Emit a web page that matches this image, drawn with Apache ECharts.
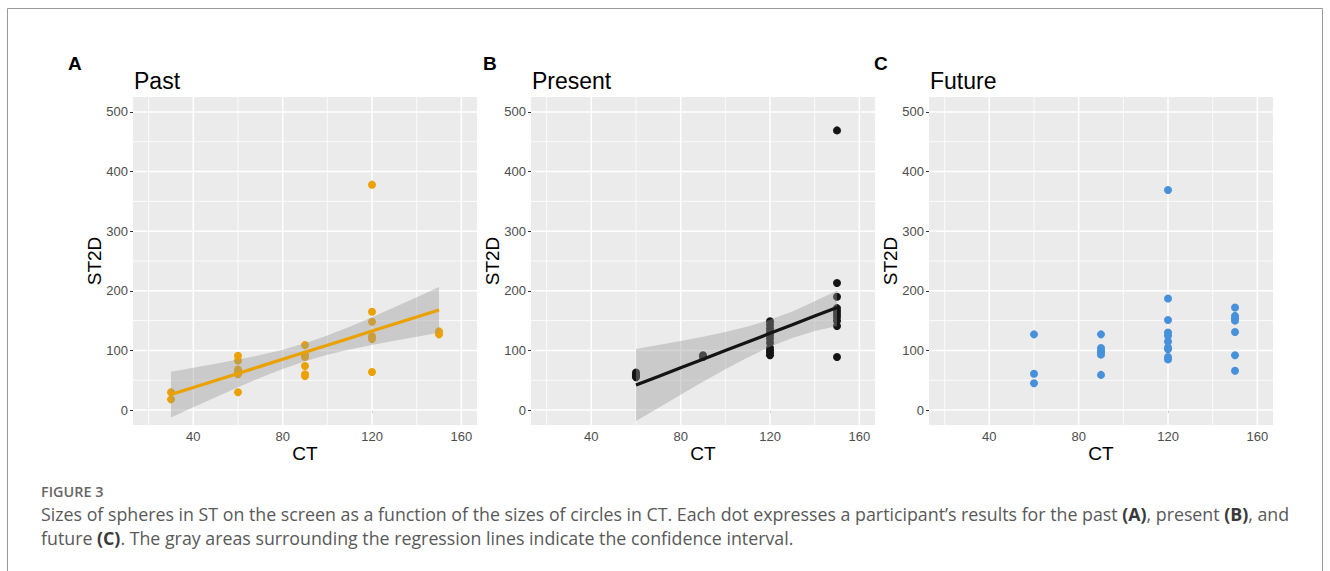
<!DOCTYPE html>
<html>
<head>
<meta charset="utf-8">
<script src="https://cdn.jsdelivr.net/npm/echarts@6/dist/echarts.min.js"></script>
<style>
  html, body { margin: 0; padding: 0; background: #ffffff; }
  #chart { width: 1330px; height: 571px; }
</style>
</head>
<body>
<div id="chart"></div>
<script>
// Axis ticks and background grid positions (shared by all three panels)
const ctTicks = [40, 80, 120, 160];
const st2dTicks = [0, 100, 200, 300, 400, 500];
const ctMinorGrid = [20, 60, 100, 140];
const st2dMinorGrid = [50, 150, 250, 350, 450];

// Past: participant results
const pastCT   = [30, 30, 60, 60, 60, 60, 60, 60, 90, 90, 90, 90, 90, 90, 120, 120, 120, 120, 120, 120, 150, 150];
const pastST2D = [30, 18, 91, 83, 68, 64, 60, 30, 109, 93, 89, 74, 60, 57, 378, 165, 148, 124, 119, 64, 132, 127];
// Past: regression line with confidence band
const pastFitCT = [30, 40, 50, 60, 70, 80, 90, 100, 110, 120, 130, 140, 150];
const pastFit   = [26, 37.8, 49.7, 61.5, 73.3, 85.2, 97, 108.8, 120.6, 132.5, 144.3, 156.2, 168];
const pastLower = [-12.5, 4.6, 21.7, 38.3, 54.2, 69.1, 82, 92.7, 101.5, 109.3, 116.3, 123, 129.5];
const pastUpper = [64.5, 71, 77.7, 84.7, 92.4, 101.3, 112, 124.9, 139.7, 155.7, 172.3, 189.4, 206.5];

// Present: participant results
const presentCT   = [60, 60, 60, 60, 90, 90, 120, 120, 120, 120, 120, 120, 120, 120, 120, 120, 120, 150, 150, 150, 150, 150, 150, 150, 150, 150, 150];
const presentST2D = [63, 60, 57, 55, 92, 89, 149, 143, 137, 131, 126, 120, 113, 104, 100, 96, 92, 469, 213, 190, 171, 166, 161, 156, 150, 141, 89];
// Present: regression line with confidence band
const presentFitCT = [60, 70, 80, 90, 100, 110, 120, 130, 140, 150];
const presentFit   = [42, 56.4, 70.9, 85.3, 99.8, 114.2, 128.7, 143.1, 157.6, 172];
const presentLower = [-18.5, 3.7, 25.9, 47.5, 68.5, 88.3, 106.1, 120.8, 132.6, 141];
const presentUpper = [102.5, 109.1, 115.9, 123.1, 131.1, 140.1, 151.3, 165.4, 182.6, 200];

// Future: participant results (no fit drawn)
const futureCT   = [60, 60, 60, 90, 90, 90, 90, 90, 90, 120, 120, 120, 120, 120, 120, 120, 120, 120, 120, 150, 150, 150, 150, 150, 150, 150];
const futureST2D = [127, 61, 45, 127, 104, 100, 97, 93, 59, 369, 187, 151, 130, 125, 115, 105, 102, 89, 85, 172, 158, 154, 150, 131, 92, 66];

const panelLetters = ['A', 'B', 'C'];
const panelTitles = ['Past', 'Present', 'Future'];
const xTitle = 'CT';
const yTitle = 'ST2D';

// ---- layout / style ----
const FONT = '"Liberation Sans", Arial, sans-serif';
const CAPTION_FONT = '"Open Sans", "Noto Sans", sans-serif';
const X_MIN = 13, X_MAX = 167, Y_MIN = -25, Y_MAX = 525;
const gridLefts = [133, 531, 929];
const GRID_TOP = 97, GRID_W = 344, GRID_H = 328;
const BAND_FILL = 'rgba(153,153,153,0.4)';

const zip = (a, b) => a.map((v, i) => [v, b[i]]);

const panels = [
  { points: zip(pastCT, pastST2D), color: '#EBA100',
    fit: { x: pastFitCT, y: pastFit, lo: pastLower, hi: pastUpper } },
  { points: zip(presentCT, presentST2D), color: '#141414',
    fit: { x: presentFitCT, y: presentFit, lo: presentLower, hi: presentUpper } },
  { points: zip(futureCT, futureST2D), color: '#4790DA', fit: null }
];

// gridline specs: [value, isVertical, isMajor]
const gridSpecs = []
  .concat(ctTicks.map(v => [v, 1, 1]))
  .concat(ctMinorGrid.map(v => [v, 1, 0]))
  .concat(st2dTicks.map(v => [v, 0, 1]))
  .concat(st2dMinorGrid.map(v => [v, 0, 0]));

const grids = [], xAxes = [], yAxes = [], series = [], graphics = [];

panels.forEach((p, i) => {
  grids.push({
    left: gridLefts[i], top: GRID_TOP, width: GRID_W, height: GRID_H,
    show: true, backgroundColor: '#EBEBEB', borderWidth: 0
  });
  xAxes.push({
    gridIndex: i, type: 'value', min: X_MIN, max: X_MAX,
    axisLine: { show: false },
    axisTick: { show: true, customValues: ctTicks, length: 3, lineStyle: { color: '#333333', width: 1 } },
    axisLabel: { customValues: ctTicks, color: '#4D4D4D', fontSize: 13, fontFamily: FONT, margin: 5 },
    splitLine: { show: false },
    name: xTitle, nameLocation: 'middle', nameGap: 19, nameMoveOverlap: false,
    nameTextStyle: { color: '#000000', fontSize: 19, fontFamily: FONT, verticalAlign: 'top' }
  });
  yAxes.push({
    gridIndex: i, type: 'value', min: Y_MIN, max: Y_MAX,
    axisLine: { show: false },
    axisTick: { show: true, customValues: st2dTicks, length: 3, lineStyle: { color: '#333333', width: 1 } },
    axisLabel: { customValues: st2dTicks, color: '#4D4D4D', fontSize: 13, fontFamily: FONT, margin: 5 },
    splitLine: { show: false },
    name: yTitle, nameLocation: 'middle', nameGap: 29, nameRotate: 90, nameMoveOverlap: false,
    nameTextStyle: { color: '#000000', fontSize: 19, fontFamily: FONT }
  });

  // background gridlines
  series.push({
    type: 'custom', xAxisIndex: i, yAxisIndex: i, z: 1, silent: true,
    data: gridSpecs,
    renderItem: (params, api) => {
      const v = api.value(0), vertical = api.value(1), major = api.value(2);
      const a = vertical ? api.coord([v, Y_MIN]) : api.coord([X_MIN, v]);
      const b = vertical ? api.coord([v, Y_MAX]) : api.coord([X_MAX, v]);
      return {
        type: 'line',
        shape: { x1: a[0], y1: a[1], x2: b[0], y2: b[1] },
        style: { stroke: '#FFFFFF', lineWidth: major ? 1.5 : 0.8 }
      };
    }
  });

  // participant points
  series.push({
    type: 'scatter', xAxisIndex: i, yAxisIndex: i, z: 2,
    data: p.points, symbol: 'circle', symbolSize: 8,
    itemStyle: { color: p.color, opacity: 1 }
  });

  if (p.fit) {
    const f = p.fit;
    // confidence band, drawn over the points
    series.push({
      type: 'custom', xAxisIndex: i, yAxisIndex: i, z: 3, silent: true,
      data: [[f.x[0], f.y[0]]],
      renderItem: (params, api) => {
        const pts = [];
        for (let k = 0; k < f.x.length; k++) pts.push(api.coord([f.x[k], f.hi[k]]));
        for (let k = f.x.length - 1; k >= 0; k--) pts.push(api.coord([f.x[k], f.lo[k]]));
        return { type: 'polygon', shape: { points: pts }, style: { fill: BAND_FILL } };
      }
    });
    // regression line
    series.push({
      type: 'line', xAxisIndex: i, yAxisIndex: i, z: 4, silent: true,
      data: zip(f.x, f.y), showSymbol: false, symbol: 'none',
      lineStyle: { color: p.color, width: 3.2 }
    });
  }

  graphics.push({
    type: 'text', x: [68, 483, 874][i], y: 63,
    style: { text: panelLetters[i], font: 'bold 19px ' + FONT, fill: '#000000', textVerticalAlign: 'middle' }
  });
  graphics.push({
    type: 'text', x: gridLefts[i] + 1, y: 81,
    style: { text: panelTitles[i], font: '23px ' + FONT, fill: '#000000', textVerticalAlign: 'middle' }
  });
});

// outer frame
graphics.push({
  type: 'rect', shape: { x: 7.5, y: 8.5, width: 1315, height: 600 },
  style: { fill: 'none', stroke: '#9A9A9A', lineWidth: 1 }, z: -1
});

// caption
const capRich = {
  b: { fontWeight: 'bold', fontSize: 17.8, fontFamily: CAPTION_FONT, fill: '#3A3A3A' }
};
graphics.push({
  type: 'text', x: 41, y: 491,
  style: { text: 'FIGURE 3', font: '600 14.4px ' + CAPTION_FONT, fill: '#666666', textVerticalAlign: 'middle' }
});
graphics.push({
  type: 'text', x: 41, y: 514,
  style: {
    text: 'Sizes of spheres in ST on the screen as a function of the sizes of circles in CT. Each dot expresses a participant’s results for the past {b|(A)}, present {b|(B)}, and',
    font: '17.8px ' + CAPTION_FONT, fill: '#595959', textVerticalAlign: 'middle', rich: capRich
  }
});
graphics.push({
  type: 'text', x: 41, y: 538,
  style: {
    text: 'future {b|(C)}. The gray areas surrounding the regression lines indicate the confidence interval.',
    font: '17.8px ' + CAPTION_FONT, fill: '#595959', textVerticalAlign: 'middle', rich: capRich
  }
});

const chart = echarts.init(document.getElementById('chart'), null, { renderer: 'svg' });
chart.setOption({
  animation: false,
  backgroundColor: '#FFFFFF',
  grid: grids,
  xAxis: xAxes,
  yAxis: yAxes,
  series: series,
  graphic: { elements: graphics }
});
</script>
</body>
</html>
